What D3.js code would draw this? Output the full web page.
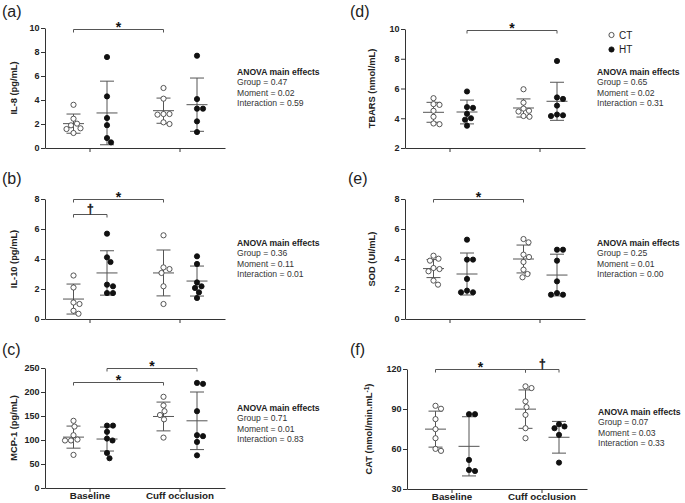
<!DOCTYPE html>
<html><head><meta charset="utf-8">
<script src="https://cdn.jsdelivr.net/npm/d3@7"></script>
<style>
body{margin:0;background:#fff}
svg{display:block}
text{font-family:"Liberation Sans",Arial,Helvetica,sans-serif}
</style>
</head><body>
<svg id="chart" width="685" height="503"></svg>
<script>
// ---------------- DATA ----------------
const categories = ["Baseline", "Cuff occlusion"];
const groups = ["CT", "HT"];

// (a) IL-8 (pg/mL): [baseline, cuff occlusion]
const il8CT = [[3.6, 2.44, 2.03, 1.89, 1.64, 1.58, 1.25], [5.0, 4.11, 2.83, 2.78, 2.83, 2.14, 2.0]];
const il8HT = [[7.58, 4.3, 2.5, 1.9, 0.83, 0.47], [7.69, 4.08, 3.28, 3.28, 2.22, 1.33]];
const il8Mean = [[2.03, 3.11], [2.92, 3.61]];
const il8SD = [[0.8, 1.05], [2.65, 2.22]];
const il8Ticks = [0, 2, 4, 6, 8, 10];
const il8Anova = ["Group = 0.47", "Moment = 0.02", "Interaction = 0.59"];
const il8Sig = [["CT", 0, "CT", 1, 9.95, "*"]];

// (b) IL-10 (pg/mL)
const il10CT = [[2.9, 2.1, 1.1, 1.0, 0.55, 0.35], [5.58, 3.44, 3.33, 3.07, 2.18, 1.0]];
const il10HT = [[5.69, 4.11, 3.8, 2.29, 2.18, 1.73, 1.73], [4.18, 3.67, 2.44, 2.18, 2.07, 1.78, 1.4]];
const il10Mean = [[1.33, 3.07], [3.07, 2.53]];
const il10SD = [[1.0, 1.53], [1.48, 1.0]];
const il10Ticks = [0, 2, 4, 6, 8];
const il10Anova = ["Group = 0.36", "Moment = 0.11", "Interaction = 0.01"];
const il10Sig = [["CT", 0, "HT", 0, 7.0, "†"], ["CT", 0, "CT", 1, 8.0, "*"]];

// (c) MCP-1 (pg/mL)
const mcpCT = [[140, 128, 110, 101, 99, 99, 69], [190, 172, 160, 152, 143, 105]];
const mcpHT = [[130, 130, 117, 103, 99, 73, 62], [219, 217, 160, 110, 108, 96, 68]];
const mcpMean = [[106, 149], [102, 140]];
const mcpSD = [[23, 30], [25, 60]];
const mcpTicks = [0, 50, 100, 150, 200, 250];
const mcpAnova = ["Group = 0.71", "Moment = 0.01", "Interaction = 0.83"];
const mcpSig = [["CT", 0, "CT", 1, 221, "*"], ["HT", 0, "HT", 1, 250, "*"]];

// (d) TBARS (nmol/mL)
const tbarsCT = [[5.35, 4.95, 4.9, 4.5, 4.1, 3.65, 3.6], [5.95, 5.05, 4.65, 4.5, 4.45, 4.15, 4.1]];
const tbarsHT = [[5.8, 4.75, 4.7, 4.3, 4.0, 3.9, 3.5], [7.85, 5.4, 5.3, 4.85, 4.25, 4.2, 4.15]];
const tbarsMean = [[4.4, 4.69], [4.42, 5.14]];
const tbarsSD = [[0.67, 0.61], [0.8, 1.28]];
const tbarsTicks = [2, 4, 6, 8, 10];
const tbarsAnova = ["Group = 0.65", "Moment = 0.02", "Interaction = 0.31"];
const tbarsSig = [["HT", 0, "HT", 1, 9.95, "*"]];

// (e) SOD (UI/mL)
const sodCT = [[4.22, 4.02, 3.89, 3.4, 3.33, 3.18, 2.56, 2.29], [5.33, 5.11, 4.29, 4.13, 3.8, 3.29, 3.0, 2.78]];
const sodHT = [[5.29, 3.96, 3.96, 2.67, 1.89, 1.78, 1.78], [4.62, 4.62, 3.89, 2.51, 1.73, 1.62, 1.62]];
const sodMean = [[3.36, 4.0], [3.0, 2.93]];
const sodSD = [[0.6, 0.93], [1.4, 1.39]];
const sodTicks = [0, 2, 4, 6, 8];
const sodAnova = ["Group = 0.25", "Moment = 0.01", "Interaction = 0.00"];
const sodSig = [["CT", 0, "CT", 1, 8.0, "*"]];

// (f) CAT (nmol/min.mL-1)
const catCT = [[92.4, 90.2, 82.4, 74.9, 68.1, 60.1, 58.6], [107, 105.7, 95.7, 91.4, 85.6, 75.6, 68.1]];
const catHT = [[86.1, 86.1, 51.8, 44.3, 43.5], [78.6, 76.9, 75.6, 70.6, 49.8]];
const catMean = [[74.9, 89.9], [62.0, 68.8]];
const catSD = [[13.5, 14.4], [22.2, 11.9]];
const catTicks = [30, 60, 90, 120];
const catAnova = ["Group = 0.07", "Moment = 0.03", "Interaction = 0.33"];
const catSig = [["CT", 0, "CT", 1, 120, "*"], ["CT", 1, "HT", 1, 120, "†"]];

// ---------------- LAYOUT ----------------
const svg = d3.select("#chart");
const FONT = '"Liberation Sans",Arial,Helvetica,sans-serif';
const AX = "#333", LINE = "#555";
const R = 2.6;
const grpOffset = {CT: -16.5, HT: 17};

const panels = [
  {letter: "(a)", title: "IL-8 (pg/mL)", CT: il8CT, HT: il8HT, mean: il8Mean, sd: il8SD, ticks: il8Ticks, anova: il8Anova, sig: il8Sig,
   box: {x0: 45, x1: 225, y0: 28, y1: 148}, letterPos: [2, 17], titleX: 16.5, anovaPos: [237, 75], xlabels: false},
  {letter: "(b)", title: "IL-10 (pg/mL)", CT: il10CT, HT: il10HT, mean: il10Mean, sd: il10SD, ticks: il10Ticks, anova: il10Anova, sig: il10Sig,
   box: {x0: 45, x1: 225, y0: 199, y1: 319}, letterPos: [2, 184], titleX: 16.5, anovaPos: [237, 246], xlabels: false},
  {letter: "(c)", title: "MCP-1 (pg/mL)", CT: mcpCT, HT: mcpHT, mean: mcpMean, sd: mcpSD, ticks: mcpTicks, anova: mcpAnova, sig: mcpSig,
   box: {x0: 45, x1: 225, y0: 368, y1: 488}, letterPos: [2, 355], titleX: 16.5, anovaPos: [237, 411], xlabels: true},
  {letter: "(d)", title: "TBARS (nmol/mL)", CT: tbarsCT, HT: tbarsHT, mean: tbarsMean, sd: tbarsSD, ticks: tbarsTicks, anova: tbarsAnova, sig: tbarsSig,
   box: {x0: 405, x1: 585, y0: 29, y1: 148}, letterPos: [350, 17], titleX: 375, anovaPos: [597, 75], xlabels: false},
  {letter: "(e)", title: "SOD (UI/mL)", CT: sodCT, HT: sodHT, mean: sodMean, sd: sodSD, ticks: sodTicks, anova: sodAnova, sig: sodSig,
   box: {x0: 405, x1: 585, y0: 199, y1: 319}, letterPos: [348, 184], titleX: 375, anovaPos: [597, 246], xlabels: false},
  {letter: "(f)", title: "CAT (nmol/min.mL", sup: "-1", titleEnd: ")", CT: catCT, HT: catHT, mean: catMean, sd: catSD, ticks: catTicks, anova: catAnova, sig: catSig,
   box: {x0: 407, x1: 587, y0: 369, y1: 489}, letterPos: [350, 355], titleX: 372, anovaPos: [598, 415], xlabels: true}
];

// deterministic beeswarm offsets (in px) for one column of points
function swarm(pys, r) {
  const D = 2 * r + 0.6;
  const order = pys.map((v, i) => i).sort((a, b) => pys[a] - pys[b]);
  const placed = [];
  const out = new Array(pys.length);
  order.forEach(i => {
    const py = pys[i];
    let best = 0;
    for (let k = 0; k < 200; k++) {
      const cand = (k % 2 === 1 ? 1 : -1) * Math.ceil(k / 2) * 0.5;
      const ok = placed.every(p => (p.x - cand) ** 2 + (p.y - py) ** 2 >= D * D);
      if (ok) { best = cand; break; }
    }
    placed.push({x: best, y: py});
    out[i] = best;
  });
  return out;
}

panels.forEach(p => {
  const b = p.box;
  const domain = [p.ticks[0], p.ticks[p.ticks.length - 1]];
  const y = d3.scaleLinear().domain(domain).range([b.y1, b.y0]);
  const x = d3.scaleBand().domain(categories).range([b.x0, b.x1]);
  const gx = (grp, ci) => x(categories[ci]) + x.bandwidth() / 2 + grpOffset[grp];
  const g = svg.append("g");

  // y axis
  const ya = g.append("g").attr("transform", `translate(${b.x0},0)`)
    .call(d3.axisLeft(y).tickValues(p.ticks).tickSize(4).tickSizeOuter(0).tickPadding(1.5));
  ya.select(".domain").attr("stroke", AX);
  ya.selectAll(".tick line").attr("stroke", AX);
  ya.selectAll(".tick text").attr("fill", "#222").attr("font-size", 9).attr("font-weight", "bold").attr("font-family", FONT);

  // x axis
  const xa = g.append("g").attr("transform", `translate(0,${b.y1})`)
    .call(d3.axisBottom(x).tickSize(4).tickSizeOuter(0).tickPadding(0.5)
      .tickFormat(p.xlabels ? (d => d) : () => ""));
  xa.select(".domain").attr("stroke", AX);
  xa.selectAll(".tick line").attr("stroke", AX);
  xa.selectAll(".tick text").attr("fill", "#222").attr("font-size", 9.8).attr("font-weight", "bold").attr("font-family", FONT);

  // y title
  const t = g.append("text")
    .attr("transform", `translate(${p.titleX},${(b.y0 + b.y1) / 2}) rotate(-90)`)
    .attr("text-anchor", "middle").attr("font-size", 9.3).attr("font-weight", "bold").attr("fill", "#222")
    .text(p.title);
  if (p.sup) {
    t.append("tspan").attr("baseline-shift", "super").attr("font-size", 6.5).text(p.sup);
    t.append("tspan").text(p.titleEnd);
  }

  // panel letter
  g.append("text").attr("x", p.letterPos[0]).attr("y", p.letterPos[1])
    .attr("font-size", 16).attr("fill", "#222").text(p.letter);

  // data: points, mean, SD
  groups.forEach((grp, gi) => {
    categories.forEach((cat, ci) => {
      const vals = p[grp][ci];
      const cx = gx(grp, ci);
      const pys = vals.map(v => y(v));
      const offs = swarm(pys, R);
      const m = p.mean[gi][ci], s = p.sd[gi][ci];
      // SD whisker
      g.append("line").attr("x1", cx).attr("x2", cx).attr("y1", y(m - s)).attr("y2", y(m + s))
        .attr("stroke", LINE).attr("stroke-width", 1);
      [m - s, m + s].forEach(v => g.append("line")
        .attr("x1", cx - 7).attr("x2", cx + 7).attr("y1", y(v)).attr("y2", y(v))
        .attr("stroke", LINE).attr("stroke-width", 1));
      // mean
      g.append("line").attr("x1", cx - 10.5).attr("x2", cx + 10.5).attr("y1", y(m)).attr("y2", y(m))
        .attr("stroke", LINE).attr("stroke-width", 1);
      // points
      g.selectAll(null).data(vals).enter().append("circle")
        .attr("cx", (d, i) => cx + offs[i]).attr("cy", d => y(d)).attr("r", R)
        .attr("fill", grp === "CT" ? "#fff" : "#111")
        .attr("stroke", grp === "CT" ? "#444" : "#111").attr("stroke-width", 0.9);
    });
  });

  // significance brackets
  p.sig.forEach(([g1, c1, g2, c2, lvl, sym]) => {
    const xA = gx(g1, c1), xB = gx(g2, c2), yy = Math.round(y(lvl)) + 0.5;
    g.append("path").attr("d", `M${xA},${yy + 3}V${yy}H${xB}V${yy + 3}`)
      .attr("fill", "none").attr("stroke", LINE).attr("stroke-width", 1);
    const st = g.append("text").attr("x", (xA + xB) / 2).attr("y", sym === "*" ? yy + 2.5 : yy - 2)
      .attr("text-anchor", "middle").attr("fill", "#111").text(sym);
    if (sym === "*") st.attr("font-size", 14).attr("font-weight", "bold");
    else st.attr("font-size", 12).attr("font-weight", "bold")
      .attr("stroke", "#111").attr("stroke-width", 0.35);
  });

  // ANOVA text
  const at = g.append("text").attr("x", p.anovaPos[0]).attr("y", p.anovaPos[1]).attr("font-size", 8.6).attr("fill", "#222");
  at.append("tspan").attr("x", p.anovaPos[0]).attr("font-weight", "bold").text("ANOVA main effects");
  p.anova.forEach(line => at.append("tspan").attr("x", p.anovaPos[0]).attr("dy", 10.4).attr("fill", "#333").text(line));
});

// legend
const leg = svg.append("g");
groups.forEach((grp, i) => {
  const ly = 35 + i * 14.5;
  leg.append("circle").attr("cx", 611.5).attr("cy", ly).attr("r", R)
    .attr("fill", grp === "CT" ? "#fff" : "#111").attr("stroke", grp === "CT" ? "#444" : "#111").attr("stroke-width", 0.9);
  leg.append("text").attr("x", 619).attr("y", ly + 3.6).attr("font-size", 10).attr("fill", "#222").text(grp);
});
</script>
</body></html>
